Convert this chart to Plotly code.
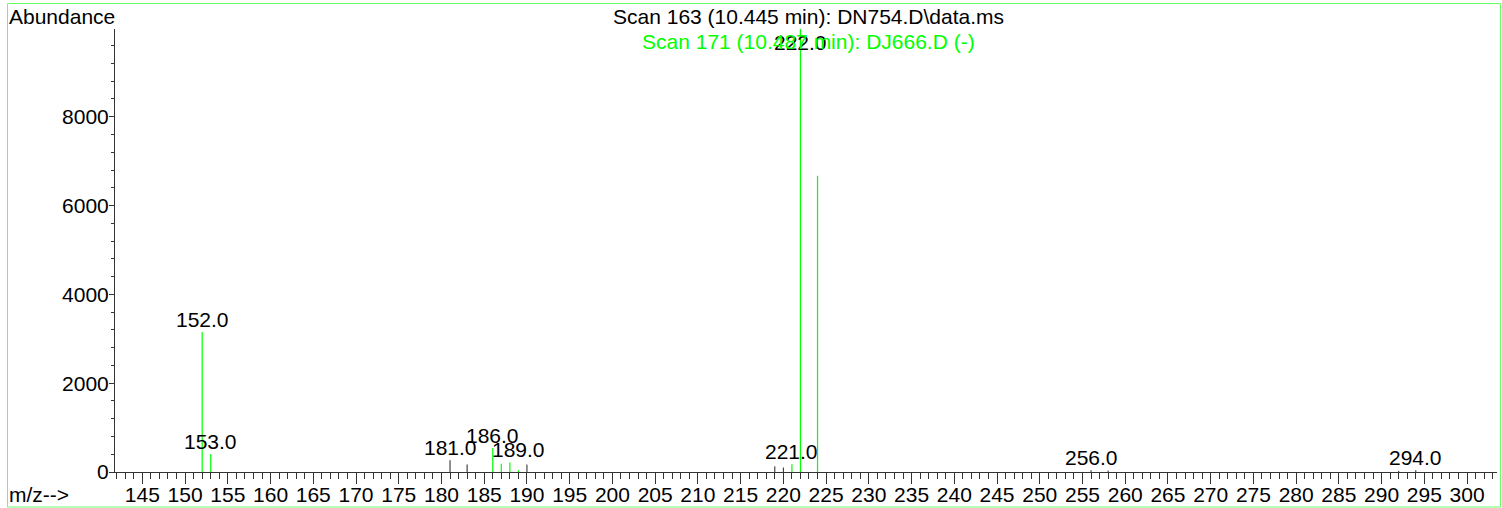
import plotly.graph_objects as go

# ---- data ----
# Scan 163 (black spectrum) - peaks visible outside the green ones
mz_black = [181, 183, 190, 219, 220, 256, 258, 292, 294]
ab_black = [265, 170, 167, 128, 100, 40, 30, 25, 40]

# Scan 171 (green spectrum)
mz_green = [152, 153, 186, 187, 188, 189, 221, 222, 224]
ab_green = [3155, 405, 541, 185, 215, 40, 173, 10000, 6670]

# labelled peaks
label_mz = [152, 153, 181, 186, 189, 221, 222, 256, 294]

x_ticks = list(range(145, 301, 5))
y_ticks = [0, 2000, 4000, 6000, 8000]

title_1 = "Scan 163 (10.445 min): DN754.D\\data.ms"
title_2 = "Scan 171 (10.487 min): DJ666.D (-)"

# ---- layout constants ----
W, H = 1502, 508
L, R, T, B = 115, 5, 29, 36
XR = [141.8, 303.5]
YR = [0, 9976]
FONT = "Liberation Sans, Arial, sans-serif"
FS = 21
GREEN = "#00ff00"
AX = "#333333"

def stems(mz, ab):
    xs, ys = [], []
    for m, a in zip(mz, ab):
        xs += [m, m, None]
        ys += [0, a, None]
    return xs, ys

fig = go.Figure()
bx, by = stems(mz_black, ab_black)
fig.add_trace(go.Scatter(x=bx, y=by, mode="lines", line=dict(color="#222222", width=1),
                         hoverinfo="skip", name="Scan 163"))
gx, gy = stems(mz_green, ab_green)
fig.add_trace(go.Scatter(x=gx, y=gy, mode="lines", line=dict(color=GREEN, width=1.2),
                         hoverinfo="skip", name="Scan 171"))

pw = W - L - R
ph = H - T - B

def px_to_paper_x(px):
    return (px - L) / pw

def px_to_paper_y(py):
    return (H - B - py) / ph

annotations = []
# peak labels
extra_shift = {189: 8}
for m in label_mz:
    vals = [a for mm, a in zip(mz_black, ab_black) if mm == m] + \
           [a for mm, a in zip(mz_green, ab_green) if mm == m]
    v = max(vals)
    if v >= YR[1]:
        annotations.append(dict(x=m, y=1, xref="x", yref="paper", text=f"{m:.1f}",
                                showarrow=False, yanchor="top", xanchor="center",
                                font=dict(family=FONT, size=FS, color="black")))
    else:
        annotations.append(dict(x=m, y=v, xref="x", yref="y", text=f"{m:.1f}",
                                showarrow=False, yanchor="bottom", xanchor="center",
                                yshift=extra_shift.get(m, 0) - 1,
                                font=dict(family=FONT, size=FS, color="black")))

# titles
annotations.append(dict(x=px_to_paper_x(808), y=px_to_paper_y(17), xref="paper", yref="paper",
                        text=title_1, showarrow=False, xanchor="center", yanchor="middle",
                        font=dict(family=FONT, size=FS, color="black")))
annotations.append(dict(x=px_to_paper_x(809), y=px_to_paper_y(41), xref="paper", yref="paper",
                        text=title_2, showarrow=False, xanchor="center", yanchor="middle",
                        font=dict(family=FONT, size=FS, color=GREEN)))
# axis captions
annotations.append(dict(x=px_to_paper_x(7), y=px_to_paper_y(17), xref="paper", yref="paper",
                        text="Abundance", showarrow=False, xanchor="left", yanchor="middle",
                        font=dict(family=FONT, size=FS, color="black")))
annotations.append(dict(x=px_to_paper_x(7), y=px_to_paper_y(495), xref="paper", yref="paper",
                        text="m/z-->", showarrow=False, xanchor="left", yanchor="middle",
                        font=dict(family=FONT, size=FS, color="black")))

shapes = [dict(type="rect", xref="paper", yref="paper",
               x0=px_to_paper_x(7.5), x1=px_to_paper_x(1500.5),
               y0=px_to_paper_y(507), y1=px_to_paper_y(3.5),
               line=dict(color="#66ff66", width=1), fillcolor="rgba(0,0,0,0)", layer="below")]

fig.update_layout(
    template="none",
    width=W, height=H,
    margin=dict(l=L, r=R, t=T, b=B, pad=0),
    paper_bgcolor="white", plot_bgcolor="white",
    showlegend=False,
    annotations=annotations,
    shapes=shapes,
    font=dict(family=FONT, size=FS, color="black"),
    xaxis=dict(range=XR, tickmode="array", tickvals=x_ticks, ticktext=[str(t) for t in x_ticks],
               automargin=False, ticklabelstandoff=-7,
               ticks="outside", ticklen=11, tickwidth=1, tickcolor=AX,
               showline=True, linecolor=AX, linewidth=1, showgrid=False, zeroline=False,
               tickfont=dict(family=FONT, size=FS, color="black"),
               minor=dict(dtick=1, tick0=0, ticks="outside", ticklen=6, tickcolor=AX, showgrid=False)),
    yaxis=dict(range=YR, tickmode="array", tickvals=y_ticks, ticktext=[str(t) for t in y_ticks],
               automargin=False, ticklabelstandoff=-4,
               ticks="outside", ticklen=5, tickwidth=1, tickcolor=AX,
               showline=True, linecolor=AX, linewidth=1, showgrid=False, zeroline=False,
               tickfont=dict(family=FONT, size=FS, color="black"),
               minor=dict(dtick=400, tick0=0, ticks="outside", ticklen=3, tickcolor=AX, showgrid=False)),
)

fig.write_html("out.html", config={"displayModeBar": False},
               post_script="document.body.style.margin='0';document.body.style.overflow='hidden';")
